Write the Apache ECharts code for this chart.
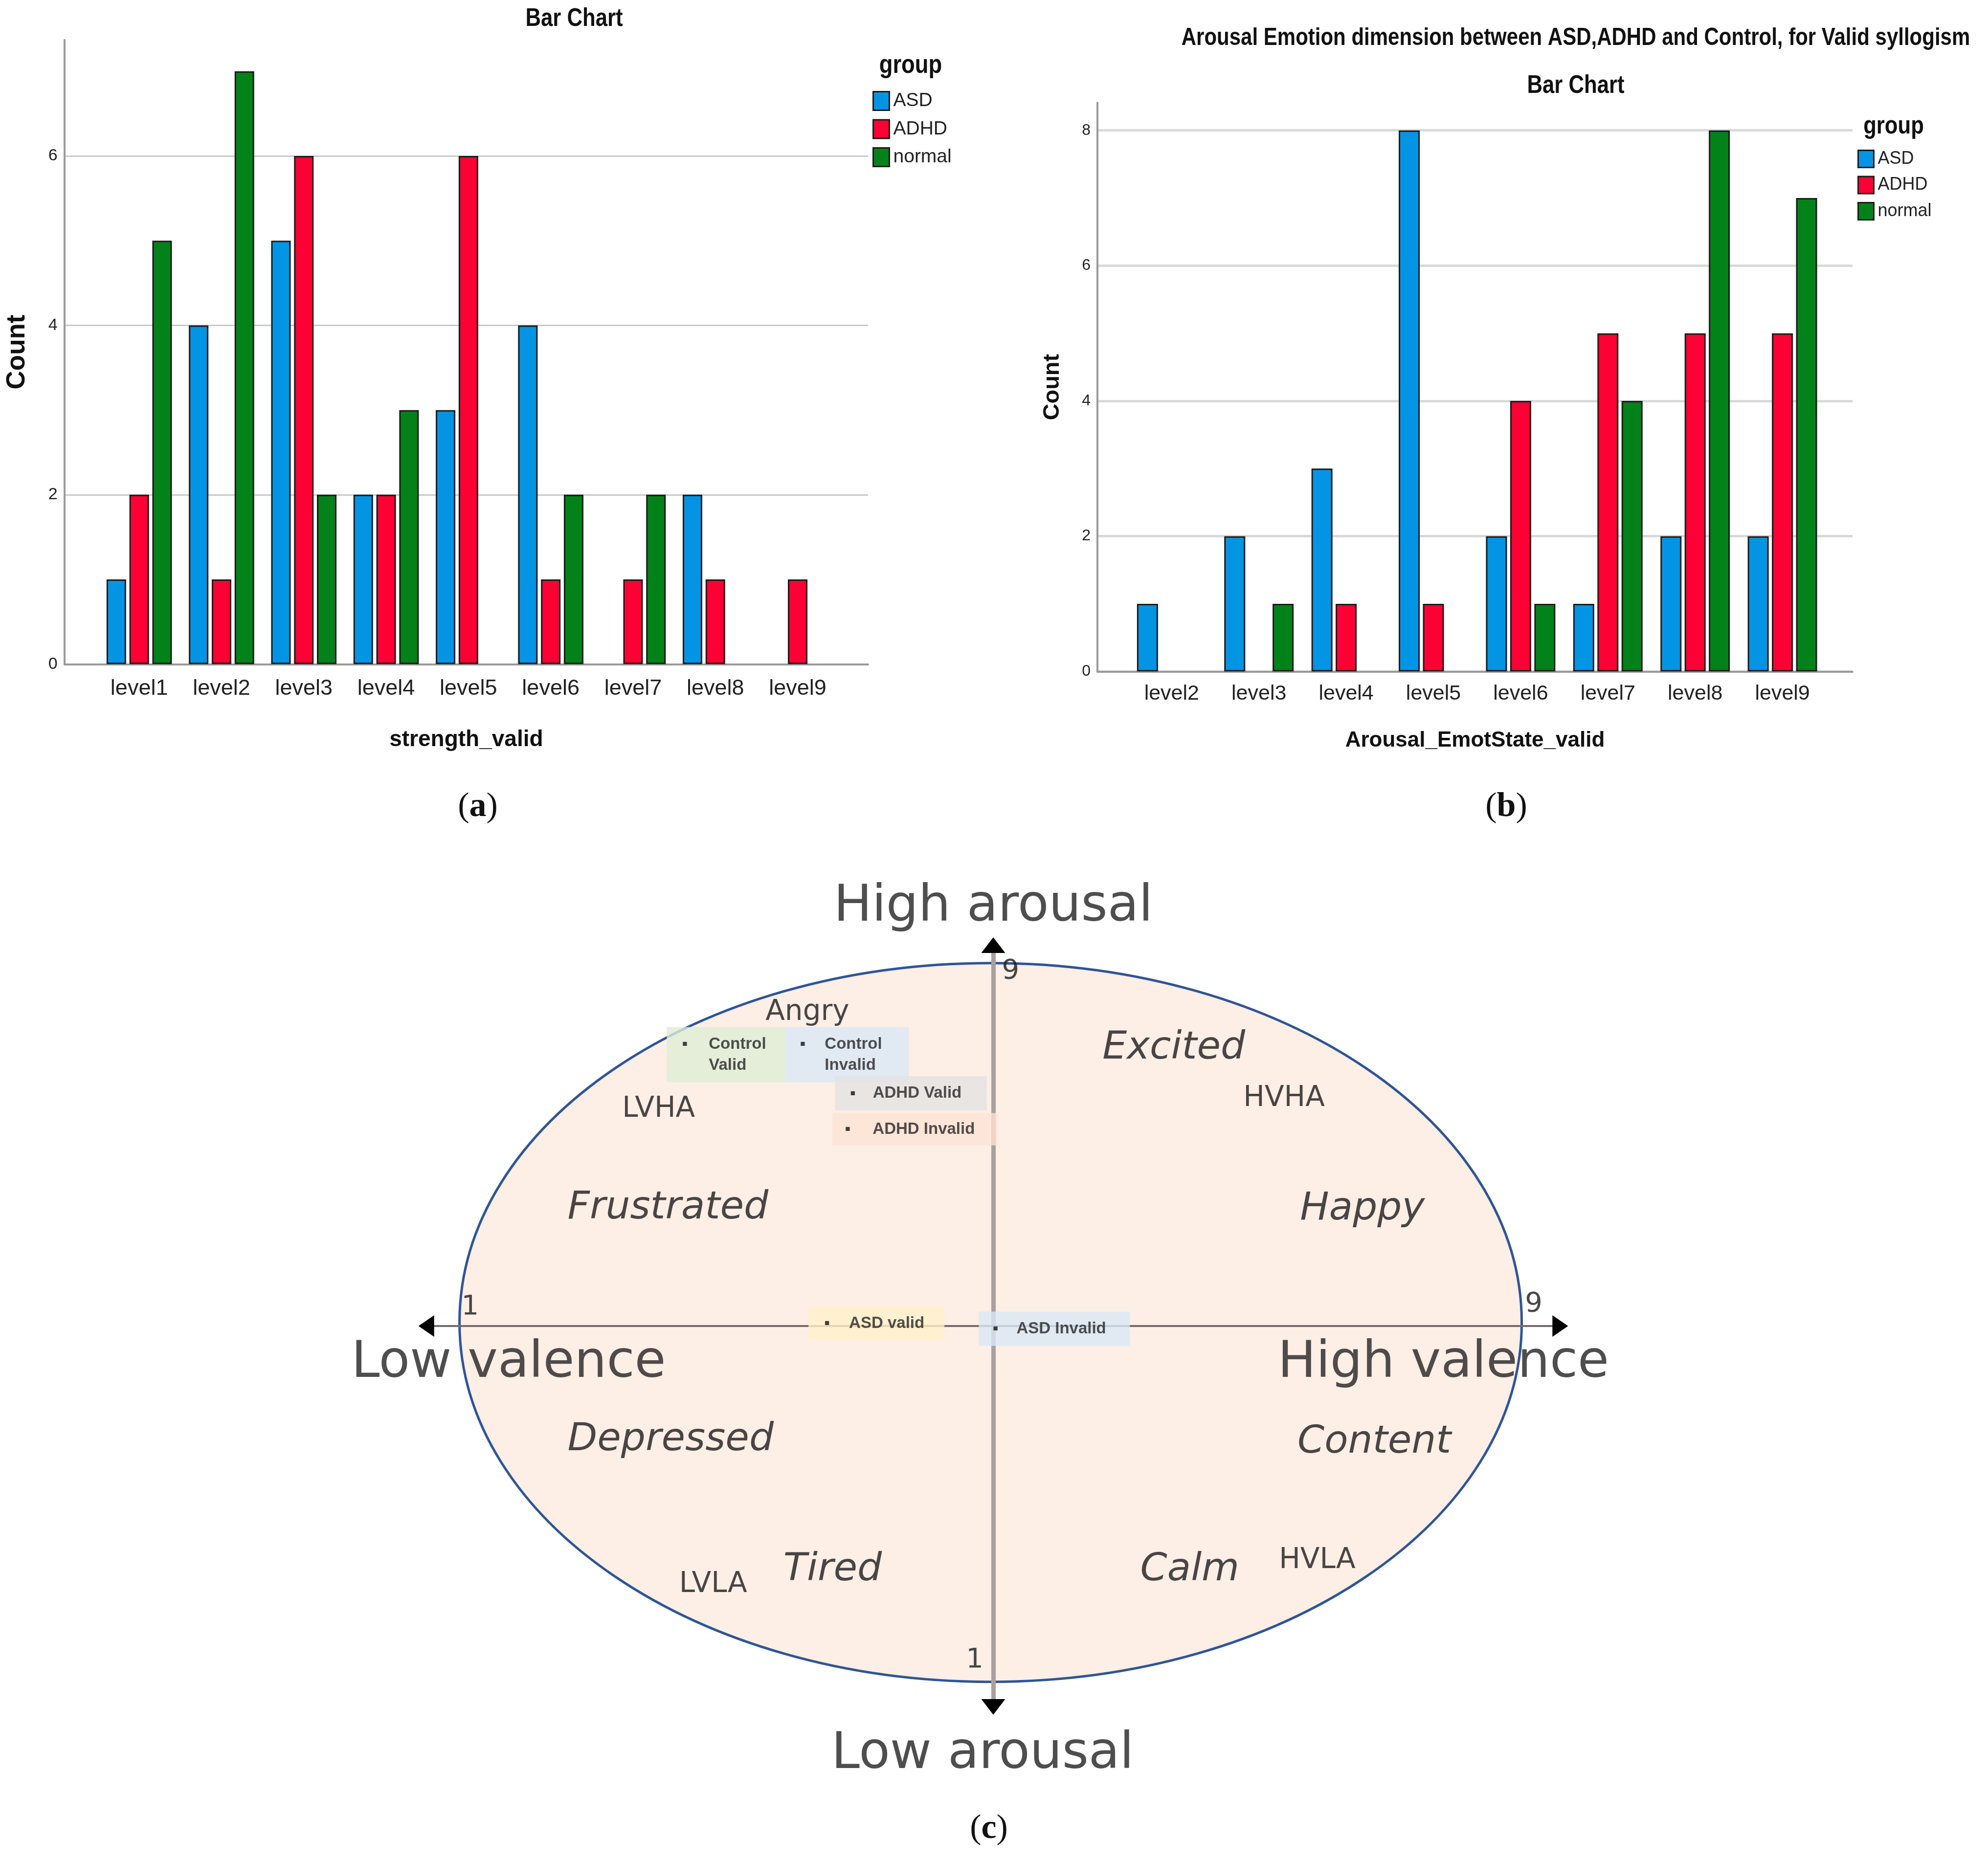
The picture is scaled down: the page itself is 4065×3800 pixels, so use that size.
<!DOCTYPE html>
<html><head><meta charset="utf-8">
<script src="https://cdn.jsdelivr.net/npm/echarts@6/dist/echarts.min.js"></script>
<style>html,body{margin:0;padding:0;background:#fff}#c{width:4065px;height:3800px}</style>
</head><body><div id="c"></div>
<script>
// ---------- DATA ----------
// Panel (a): strength_valid
const levelsA = ['level1','level2','level3','level4','level5','level6','level7','level8','level9'];
const asdA    = [1,4,5,2,3,4,0,2,0];
const adhdA   = [2,1,6,2,6,1,1,1,1];
const normalA = [5,7,2,3,0,2,2,0,0];
// Panel (b): Arousal_EmotState_valid
const levelsB = ['level2','level3','level4','level5','level6','level7','level8','level9'];
const asdB    = [1,2,3,8,2,1,2,2];
const adhdB   = [0,0,1,1,4,5,5,5];
const normalB = [0,1,0,0,1,4,8,7];
const groups  = ['ASD','ADHD','normal'];
const yMaxA = 7.37, yMaxB = 8.41, yStep = 2;
// Panel (c): circumplex (valence, arousal on a 1..9 scale)
const scaleMid = 5;
const valenceRange = [0.73, 9.27];
const arousalRange = [0.76, 9.24];
const circumplex = [[4.98, 5.04, 4, 4]]; // centre valence, centre arousal, radius valence, radius arousal
const poleLabels = [['High arousal',5.00,9.66],['Low arousal',4.92,0.23],['Low valence',1.35,4.58],['High valence',8.39,4.58]];
const scaleLabels = [['1',1.06,5.21],['9',9.07,5.24],['9',5.13,8.95],['1',4.86,1.28]];
const quadrantLabels = [['LVHA',2.48,7.41],['HVHA',7.19,7.53],['LVLA',2.89,2.12],['HVLA',7.44,2.39]];
const emotionLabels = [['Excited',6.36,8.09],['Frustrated',2.55,6.31],['Happy',7.78,6.30],['Depressed',2.57,3.73],['Content',7.87,3.70],['Tired',3.79,2.28],['Calm',6.48,2.28]];
const angryLabel = [['Angry',3.60,8.49]];
const groupBoxes = [
  ['Control','Valid',2.99,8.02],
  ['Control','Invalid',3.90,8.02],
  ['ADHD Valid','',4.38,7.59],
  ['ADHD Invalid','',4.41,7.19],
  ['ASD valid','',4.12,5.03],
  ['ASD Invalid','',5.46,4.97]
];

// ---------- STYLES ----------
const SANS = "'Liberation Sans',Arial,sans-serif";
const DJ = "'DejaVu Sans',sans-serif";
const SERIF = "'Liberation Serif','DejaVu Serif',serif";
const NARROW_X = 0.84;
const colors = {ASD:'#0494e4', ADHD:'#fd0134', normal:'#03821a'};
const boxStyles = [
  {w:244,h:113,bg:'#dfeed6',pl:32,bw:54,lh:43},
  {w:252,h:113,bg:'#d9e9f6',pl:30,bw:50,lh:43},
  {w:310,h:70,bg:'#e2e2e2',pl:31,bw:46,lh:40},
  {w:337,h:66,bg:'#fce2d3',pl:26,bw:56,lh:40},
  {w:278,h:69,bg:'#fff1c9',pl:33,bw:50,lh:40},
  {w:309,h:70,bg:'#d9e9f6',pl:29,bw:48,lh:40}
];

function barSeries(values, name, xi, yi, bw, gap) {
  return {type:'bar', name, xAxisIndex:xi, yAxisIndex:yi,
    data: values.map(v => v === 0 ? null : v),
    barWidth: bw, barGap: gap, z: 3, silent: true,
    itemStyle:{color:colors[name], borderColor:'#1a1a1a', borderWidth:3}};
}
function frameX(grid, name, gap, size) {
  return {type:'value', gridIndex:grid, min:0, max:1, name, nameLocation:'middle', nameGap:gap,
    nameTextStyle:{fontFamily:SANS, fontWeight:'bold', fontSize:size, color:'#111'},
    axisLine:{show:true, lineStyle:{color:'#9a9a9a', width:4}}, axisTick:{show:false},
    axisLabel:{show:false}, splitLine:{show:false}};
}
function frameY(grid, max, gridColor, gridWidth, labelSize, nameSize, nameGap) {
  return {type:'value', gridIndex:grid, min:0, max, interval:yStep,
    name:'Count', nameLocation:'middle', nameRotate:90, nameGap,
    nameTextStyle:{fontFamily:SANS, fontWeight:'bold', fontSize:nameSize, color:'#111'},
    axisLine:{show:true, lineStyle:{color:'#9a9a9a', width:4}}, axisTick:{show:false},
    axisLabel:{fontFamily:SANS, fontSize:labelSize, color:'#222', margin:14,
      formatter: v => (Math.abs(v % yStep) < 1e-9 ? String(v) : '')},
    splitLine:{show:true, showMinLine:true, showMaxLine:false, lineStyle:{color:gridColor, width:gridWidth}}};
}
function catX(grid, cats, size, margin) {
  return {type:'category', gridIndex:grid, data:cats, boundaryGap:true,
    axisLine:{show:false}, axisTick:{show:false},
    axisLabel:{fontFamily:SANS, fontSize:size, color:'#222', margin, interval:0}, splitLine:{show:false}};
}
function hiddenY(grid, max) {
  return {type:'value', gridIndex:grid, min:0, max, show:false, splitLine:{show:false}};
}
function centred(list) { return list.map(d => ({name:d[0], value:[d[1]-scaleMid, d[2]-scaleMid]})); }
function textSeries(list, labelStyle) {
  return {type:'scatter', xAxisIndex:4, yAxisIndex:4, clip:false, silent:true, z:8,
    symbol:'circle', symbolSize:1, itemStyle:{color:'rgba(0,0,0,0)'},
    data: centred(list),
    label:Object.assign({show:true, position:'inside', formatter:'{b}', color:'#1e1e1e'}, labelStyle)};
}
function narrowText(x, y, text, size) {
  return {type:'text', x, y, scaleX:NARROW_X, z:10,
    style:{text, fontFamily:SANS, fontWeight:'bold', fontSize:size, fill:'#111', align:'center', verticalAlign:'middle'}};
}
function panelTag(x, y, letter) {
  return {type:'text', x, y, z:10,
    style:{text:'({b|' + letter + '})', fontFamily:SERIF, fontSize:70, fill:'#111', align:'center', verticalAlign:'middle',
      rich:{b:{fontFamily:SERIF, fontSize:70, fontWeight:'bold', fill:'#111'}}}};
}

const boxData = groupBoxes.map((b, i) => {
  const s = boxStyles[i];
  const lines = b[1] ? 2 : 1;
  const pad = (s.h - lines * s.lh) / 2;
  const txt = b[1] ? '{d|■}{t|' + b[0] + '}\n{e| }{t|' + b[1] + '}' : '{d|■}{t|' + b[0] + '}';
  return {name:b[0] + ' ' + b[1], value:[b[2]-scaleMid, b[3]-scaleMid],
    label:{show:true, position:'inside', formatter:txt, width:s.w - s.pl, padding:[pad,0,pad,s.pl],
      backgroundColor:s.bg, lineHeight:s.lh,
      rich:{
        d:{width:s.bw, align:'left', fontSize:17, color:'#111', lineHeight:s.lh, fontFamily:SANS},
        e:{width:s.bw, align:'left', fontSize:17, lineHeight:s.lh},
        t:{align:'left', fontSize:33, fontWeight:'bold', color:'#262626', lineHeight:s.lh, fontFamily:SANS}
      }}};
});

const option = {
  backgroundColor:'#ffffff',
  animation:false,
  textStyle:{fontFamily:SANS},
  grid:[
    {left:131.7, top:81.7, width:1643.3, height:1276.6},
    {left:200.5, top:81.7, width:1514.7, height:1276.6},
    {left:2244, top:210, width:1544, height:1163.3},
    {left:2306.6, top:210, width:1427.2, height:1163.3},
    {left:871.7, top:1932.9, width:2318.6, height:1558.2}
  ],
  xAxis:[
    frameX(0, 'strength_valid', 132, 46),
    catX(1, levelsA, 45, 28),
    frameX(2, 'Arousal_EmotState_valid', 120, 44),
    catX(3, levelsB, 43, 24),
    {type:'value', gridIndex:4, min:valenceRange[0]-scaleMid, max:valenceRange[1]-scaleMid, z:3,
      axisLine:{show:true, onZero:true, lineStyle:{color:'#756c69', width:4}},
      axisTick:{show:false}, axisLabel:{show:false}, splitLine:{show:false}},
    {type:'value', gridIndex:4, min:valenceRange[0]-scaleMid, max:valenceRange[1]-scaleMid, z:4,
      axisLine:{show:true, onZero:true, symbol:['triangle','triangle'], symbolSize:[44,32], lineStyle:{color:'#000', width:0}},
      axisTick:{show:false}, axisLabel:{show:false}, splitLine:{show:false}}
  ],
  yAxis:[
    frameY(0, yMaxA, '#c9c9c9', 3, 34, 53, 70),
    hiddenY(1, yMaxA),
    frameY(2, yMaxB, '#d9d9d9', 5, 32, 47, 68),
    hiddenY(3, yMaxB),
    {type:'value', gridIndex:4, min:arousalRange[0]-scaleMid, max:arousalRange[1]-scaleMid, z:3,
      axisLine:{show:true, onZero:true, lineStyle:{color:'#a8a19d', width:9}},
      axisTick:{show:false}, axisLabel:{show:false}, splitLine:{show:false}},
    {type:'value', gridIndex:4, min:arousalRange[0]-scaleMid, max:arousalRange[1]-scaleMid, z:4,
      axisLine:{show:true, onZero:true, symbol:['triangle','triangle'], symbolSize:[49,32], lineStyle:{color:'#000', width:0}},
      axisTick:{show:false}, axisLabel:{show:false}, splitLine:{show:false}}
  ],
  legend:[
    {data:groups, orient:'vertical', left:1784, top:186, itemWidth:33, itemHeight:38, itemGap:16.5, padding:0,
      icon:'rect', selectedMode:false, itemStyle:{borderColor:'#1a1a1a', borderWidth:3},
      textStyle:{fontFamily:SANS, fontSize:39, color:'#222', padding:[0,0,0,3]}},
    {data:groups, orient:'vertical', left:3798, top:306, itemWidth:32, itemHeight:35, itemGap:15.5, padding:0,
      icon:'rect', selectedMode:false, itemStyle:{borderColor:'#1a1a1a', borderWidth:3},
      textStyle:{fontFamily:SANS, fontSize:36, color:'#222', padding:[0,0,0,3]}}
  ],
  graphic:[
    narrowText(1174, 39, 'Bar Chart', 52),
    narrowText(3222, 78, 'Arousal Emotion dimension between ASD,ADHD and Control, for Valid syllogism', 50),
    narrowText(3222, 176, 'Bar Chart', 52),
    narrowText(1862, 134, 'group', 54),
    narrowText(3872, 259, 'group', 52),
    panelTag(977, 1651, 'a'),
    panelTag(3080, 1651, 'b'),
    panelTag(2022, 3741, 'c')
  ],
  series:[
    barSeries(asdA, 'ASD', 1, 1, 40, '17%'),
    barSeries(adhdA, 'ADHD', 1, 1, 40, '17%'),
    barSeries(normalA, 'normal', 1, 1, 40, '17%'),
    barSeries(asdB, 'ASD', 3, 3, 43, '15%'),
    barSeries(adhdB, 'ADHD', 3, 3, 43, '15%'),
    barSeries(normalB, 'normal', 3, 3, 43, '15%'),
    {type:'custom', name:'circumplex', xAxisIndex:4, yAxisIndex:4, clip:false, silent:true, z:1,
      data: circumplex.map(d => [d[0]-scaleMid, d[1]-scaleMid, d[2], d[3]]),
      renderItem: function (params, api) {
        const c = api.coord([api.value(0), api.value(1)]);
        const s = api.size([api.value(2), api.value(3)]);
        return {type:'ellipse', shape:{cx:c[0], cy:c[1], rx:s[0], ry:s[1]},
          style:{fill:'#fdeee6', stroke:'#2f5597', lineWidth:5}};
      }},
    textSeries(poleLabels, {fontFamily:DJ, fontSize:104, color:'#222'}),
    textSeries(scaleLabels, {fontFamily:DJ, fontSize:56, color:'#1a1a1a'}),
    textSeries(quadrantLabels, {fontFamily:DJ, fontSize:58, color:'#1a1a1a'}),
    textSeries(emotionLabels, {fontFamily:DJ, fontSize:79, fontStyle:'italic', color:'#1a1a1a'}),
    textSeries(angryLabel, {fontFamily:DJ, fontSize:58, color:'#1a1a1a'}),
    {type:'scatter', name:'groups', xAxisIndex:4, yAxisIndex:4, clip:false, silent:true, z:9,
      symbol:'circle', symbolSize:1, itemStyle:{color:'rgba(0,0,0,0)'}, data:boxData}
  ]
};
const chart = echarts.init(document.getElementById('c'), null, {renderer:'canvas', width:4065, height:3800});
chart.setOption(option);
</script></body></html>
